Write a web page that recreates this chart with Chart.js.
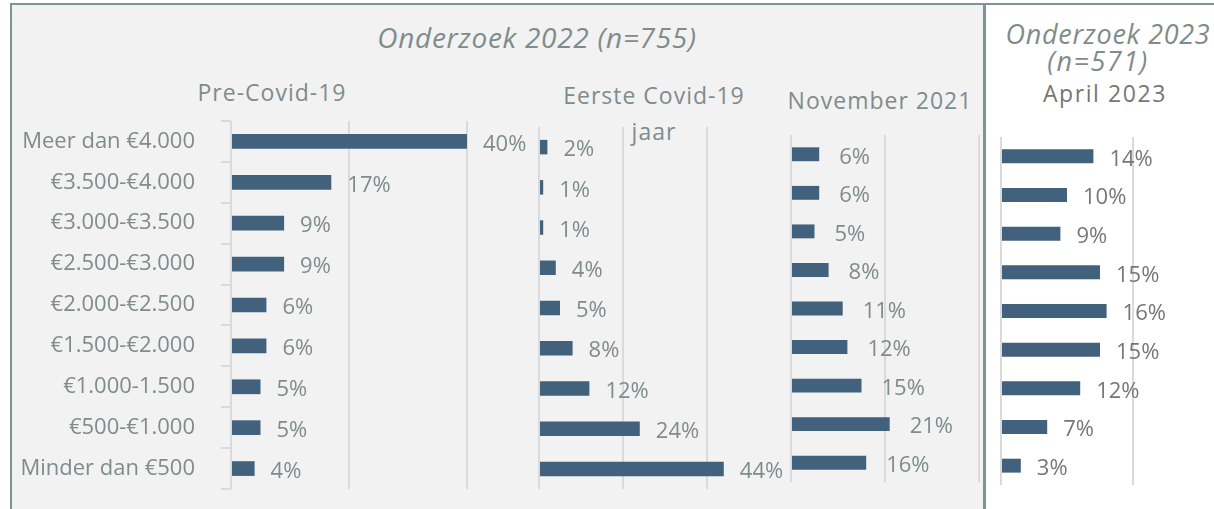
<!DOCTYPE html>
<html>
<head>
<meta charset="utf-8">
<script src="https://cdn.jsdelivr.net/npm/chart.js@4.4.1/dist/chart.umd.min.js"></script>
<style>
body { margin: 0; width: 1214px; height: 509px; background: #fff; overflow: hidden; position: relative; font-family: 'Open Sans', sans-serif; }
#frame { position: absolute; left: 10px; top: 3px; width: 971px; height: 520px; background: #f2f2f2;
  border-left: 2px solid #7f9591; border-top: 2px solid #7f9591; border-right: 3px solid #7f9591; }
#topline { position: absolute; left: 986px; top: 3px; width: 228px; height: 2px; background: #7f9591; }
.ttl { position: absolute; white-space: nowrap; color: #7f8c8a; font-weight: 400; transform: translateX(-50%); }
.it { font-style: italic; font-size: 28px; line-height: 38px; letter-spacing: 0.7px; }
.sub { font-size: 23px; line-height: 32px; letter-spacing: 1px; }
.panel { position: absolute; top: 100px; height: 400px; }
</style>
</head>
<body>
<div id="frame"></div>
<div id="topline"></div>

<div class="ttl it" style="left:537px; top:18px;">Onderzoek 2022 (n=755)</div>
<div class="ttl sub" style="left:272px; top:76px;">Pre-Covid-19</div>
<div class="ttl sub" style="left:654px; top:79px;">Eerste Covid-19</div>
<div class="ttl sub" style="left:654px; top:115px;">jaar</div>
<div class="ttl sub" style="left:880px; top:84px;">November 2021</div>
<div class="ttl it" style="left:1108px; top:15px; font-size:27px;">Onderzoek 2023</div>
<div class="ttl it" style="left:1098px; top:42px; font-size:27px; letter-spacing:1.5px;">(n=571)</div>
<div class="ttl sub" style="left:1105px; top:77px; color:#767676; letter-spacing:1.6px;">April 2023</div>

<div class="panel" style="left:0px; width:540px;"><canvas id="c1"></canvas></div>
<div class="panel" style="left:530px; width:270px;"><canvas id="c2"></canvas></div>
<div class="panel" style="left:780px; width:220px;"><canvas id="c3"></canvas></div>
<div class="panel" style="left:990px; width:224px;"><canvas id="c4"></canvas></div>

<script>
var categories = ['Meer dan €4.000', '€3.500-€4.000', '€3.000-€3.500', '€2.500-€3.000',
    '€2.000-€2.500', '€1.500-€2.000', '€1.000-1.500', '€500-€1.000', 'Minder dan €500'];
var preCovid = [40, 17, 9, 9, 6, 6, 5, 5, 4];
var eersteJaar = [2, 1, 1, 4, 5, 8, 12, 24, 44];
var november2021 = [6, 6, 5, 8, 11, 12, 15, 21, 16];
var april2023 = [14, 10, 9, 15, 16, 15, 12, 7, 3];

var BAR = '#41617d';
var TEXT = '#7f8c8a';
var GRID = '#dadada';

// value labels to the right of each bar
var barLabels = {
    id: 'barLabels',
    afterDatasetsDraw: function(chart) {
        var opts = chart.options.plugins.barLabels;
        var ctx = chart.ctx;
        var meta = chart.getDatasetMeta(0);
        var values = chart.data.datasets[0].data;
        ctx.save();
        ctx.font = '22px "Open Sans"';
        ctx.fillStyle = opts.color;
        ctx.textAlign = 'left';
        ctx.textBaseline = 'middle';
        meta.data.forEach(function(bar, i) {
            ctx.fillText(values[i] + '%', bar.x + opts.offset, bar.y + 3);
        });
        ctx.restore();
    }
};

function makeChart(id, values, max, pad, opts) {
    var showLabels = opts.showLabels;
    return new Chart(document.getElementById(id), {
        type: 'bar',
        data: {
            labels: categories,
            datasets: [{data: values, backgroundColor: BAR, barPercentage: 0.36, categoryPercentage: 1}]
        },
        options: {
            indexAxis: 'y',
            responsive: true,
            maintainAspectRatio: false,
            animation: false,
            layout: {padding: pad},
            plugins: {
                legend: {display: false},
                tooltip: {enabled: false},
                barLabels: {offset: opts.offset, color: opts.color}
            },
            scales: {
                x: {
                    min: 0, max: max,
                    ticks: {display: false, stepSize: 20},
                    border: {display: false},
                    grid: {
                        drawTicks: false, lineWidth: 2,
                        color: function(c) { return c.tick && c.tick.value % 20 === 0 ? GRID : 'rgba(0,0,0,0)'; }
                    },
                    afterFit: function(s) { s.height = 0; s.paddingLeft = 0; s.paddingRight = 0; }
                },
                y: {
                    display: showLabels,
                    border: {display: false},
                    grid: {drawOnChartArea: false, drawTicks: true, tickLength: 10, color: GRID, lineWidth: 2},
                    ticks: {padding: 26, color: TEXT, font: {family: 'Open Sans', size: 22}},
                    afterFit: function(s) {
                        if (showLabels) s.width = 231;
                        s.paddingTop = 0;
                        s.paddingBottom = 0;
                    }
                }
            }
        },
        plugins: [barLabels]
    });
}

makeChart('c1', preCovid, 40, {top: 21, bottom: 11, left: 0, right: 73}, {showLabels: true, offset: 16, color: TEXT});
makeChart('c2', eersteJaar, 45, {top: 27, bottom: 11, left: 9, right: 72}, {showLabels: false, offset: 16, color: TEXT});
makeChart('c3', november2021, 40, {top: 35, bottom: 18, left: 11, right: 21}, {showLabels: false, offset: 20, color: TEXT});
makeChart('c4', april2023, 20, {top: 37, bottom: 15, left: 11, right: 81}, {showLabels: false, offset: 16, color: '#767676'});
</script>
</body>
</html>
